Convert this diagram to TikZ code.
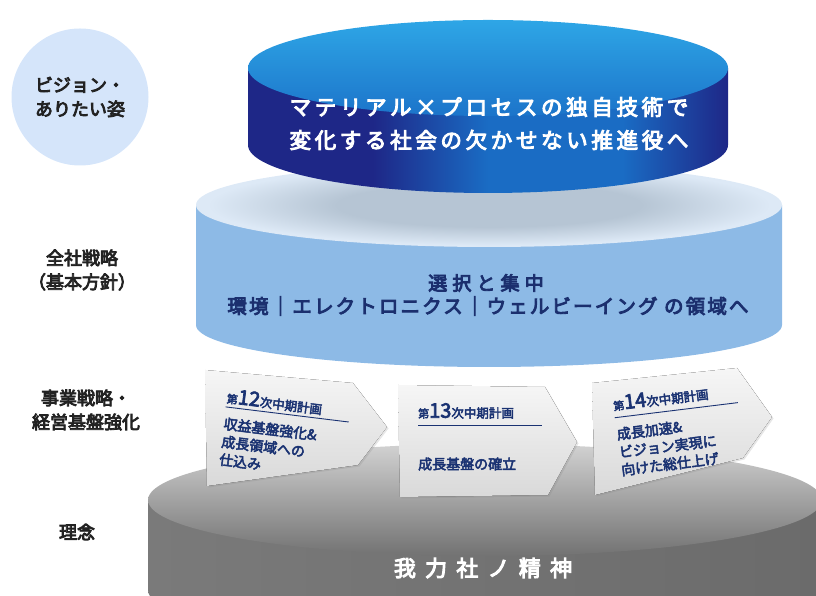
\documentclass[tikz,border=0pt]{standalone}
\usepackage{fontspec}
\setmainfont{Noto Sans CJK JP}
\newfontfamily\gothic{Noto Sans CJK JP}[FakeBold=4.5]
\newfontfamily\gothicsmall{Noto Sans CJK JP}[FakeBold=3.5]
\usetikzlibrary{shadows}

\definecolor{visionbg}{HTML}{D5E5FA}
\definecolor{labelgray}{HTML}{222222}
\definecolor{navyDark}{HTML}{1E2787}
\definecolor{blueMid}{HTML}{1A6CC4}
\definecolor{topLight}{HTML}{2EA6E6}
\definecolor{topFront}{HTML}{1C74CA}
\definecolor{skyEdge}{HTML}{8DBAE6}
\definecolor{skyMid}{HTML}{C4DCF2}
\definecolor{skyTop}{HTML}{DDE9F6}
\definecolor{skyShadow}{HTML}{B6C5D4}
\definecolor{navyText}{HTML}{1B2F6E}
\definecolor{grayL}{HTML}{7A7A7A}
\definecolor{grayM}{HTML}{A6A6A6}
\definecolor{grayR}{HTML}{6B6B6B}
\definecolor{grayTop}{HTML}{D2D2D2}
\definecolor{grayFront}{HTML}{727272}
\definecolor{panelTop}{HTML}{F6F6F6}
\definecolor{panelBot}{HTML}{D9D9D9}
\definecolor{planText}{HTML}{1A3272}

\pgfdeclarehorizontalshading{visionside}{100bp}{color(0bp)=(navyDark); color(25bp)=(navyDark); color(38bp)=(navyDark); color(50bp)=(blueMid); color(64bp)=(blueMid); color(75bp)=(navyDark); color(100bp)=(navyDark)}
\pgfdeclareradialshading{discshadow}{\pgfpoint{0bp}{0bp}}{color(0bp)=(skyShadow); color(13bp)=(skyShadow); color(24bp)=(skyTop); color(50bp)=(skyTop)}

\begin{document}
\begin{tikzpicture}[x=1pt, y=1pt,
	sidelabel/.style = {font=\gothic\fontsize{18}{24}\selectfont, text=labelgray, align=center},
	panel/.style = {top color=panelTop, bottom color=panelBot, drop shadow={shadow xshift=1.5pt, shadow yshift=-1.5pt, opacity=0.2}},
	planhead/.style = {font=\gothicsmall\fontsize{12.5}{14}\selectfont, text=planText, inner sep=0},
	planbody/.style = {font=\gothicsmall\fontsize{14}{18}\selectfont, text=planText, align=left, inner sep=0},
	planrule/.style = {planText, line width=0.9pt}]
	\useasboundingbox (0,0) rectangle (816,596);
	\clip (0,0) rectangle (816,596);
	
	% left labels
	\node (vision) at (80,499) [circle, fill=visionbg, minimum size=137, inner sep=0, sidelabel] {ビジョン・\\ありたい姿};
	\node (zensha) at (82,326) [sidelabel] {全社戦略\\（基本方針）};
	\node (jigyo) at (86,186) [sidelabel] {事業戦略・\\経営基盤強化};
	\node (rinen) at (77,64) [sidelabel] {理念};
	
	% base disc
	\shade[left color=grayL, middle color=grayM, right color=grayR] (148,96) -- (148,6) arc[start angle=180, end angle=360, x radius=337, y radius=56] -- (822,96) -- cycle;
	\shade[top color=grayTop, bottom color=grayFront] (485,96) ellipse [x radius=337, y radius=56];
	\node (spirit) at (483,28) [font=\gothic\fontsize{22}{22}\selectfont\addfontfeature{LetterSpace=42}, text=white] {我力社ノ精神};
	
	% middle disc
	\shade[left color=skyEdge, middle color=skyMid, right color=skyEdge] (196,391) -- (196,271) arc[start angle=180, end angle=360, x radius=293, y radius=42] -- (782,391) -- cycle;
	\shade[shading=discshadow] (489,391) ellipse [x radius=293, y radius=42];
	\node (focus) at (486,313) [font=\gothic\fontsize{19}{19}\selectfont\addfontfeature{LetterSpace=27}, text=navyText] {選択と集中};
	\node (domains) at (488,290) [font=\gothic\fontsize{19.5}{19.5}\selectfont\addfontfeature{LetterSpace=11}, text=navyText] {環境｜エレクトロニクス｜ウェルビーイング の領域へ};
	
	% top disc
	\shade[shading=visionside] (248,528) -- (248,451) arc[start angle=180, end angle=360, x radius=240, y radius=48] -- (728,528) -- cycle;
	\shade[top color=topLight, bottom color=topFront] (488,528) ellipse [x radius=240, y radius=48];
	\node (goal1) at (489,489) [font=\gothic\fontsize{21.5}{21.5}\selectfont\addfontfeature{LetterSpace=17}, text=white] {マテリアル×プロセスの独自技術で};
	\node (goal2) at (489,456) [font=\gothic\fontsize{21.5}{21.5}\selectfont\addfontfeature{LetterSpace=17}, text=white] {変化する社会の欠かせない推進役へ};
	
	% plan arrows
	\fill[panel] (205,226) -- (353,213) -- (387,169) -- (358,131) -- (207,110) -- cycle;
	\fill[panel] (398,211) -- (545,209) -- (577,154) -- (548,101) -- (400,99) -- cycle;
	\fill[panel] (592,213) -- (737,228) -- (772,179) -- (743,138) -- (595,101) -- cycle;
	
	\begin{scope}[rotate around={-7:(227,200)}, transform shape]
		\node (plan12) at (227,200) [planhead, anchor=west] {{\fontsize{11}{11}\selectfont 第}{\fontsize{20}{20}\selectfont 12}次中期計画};
		\draw[planrule] (plan12.south west) ++(0,-3) -- ++(124,0);
		\node (task12) at (227,179) [planbody, anchor=north west] {収益基盤強化\&\\成長領域への\\仕込み};
	\end{scope}
	
	\node (plan13) at (418,185) [planhead, anchor=west] {{\fontsize{11}{11}\selectfont 第}{\fontsize{20}{20}\selectfont 13}次中期計画};
	\draw[planrule] (plan13.south west) ++(0,-6) -- ++(124,0);
	\node (task13) at (418,132) [planbody, anchor=west] {成長基盤の確立};
	
	\begin{scope}[rotate around={7:(613,192)}, transform shape]
		\node (plan14) at (613,192) [planhead, anchor=west] {{\fontsize{11}{11}\selectfont 第}{\fontsize{20}{20}\selectfont 14}次中期計画};
		\draw[planrule] (plan14.south west) ++(0,-6) -- ++(124,0);
		\node (task14) at (613,168) [planbody, anchor=north west] {成長加速\&\\ビジョン実現に\\向けた総仕上げ};
	\end{scope}
\end{tikzpicture}
\end{document}
